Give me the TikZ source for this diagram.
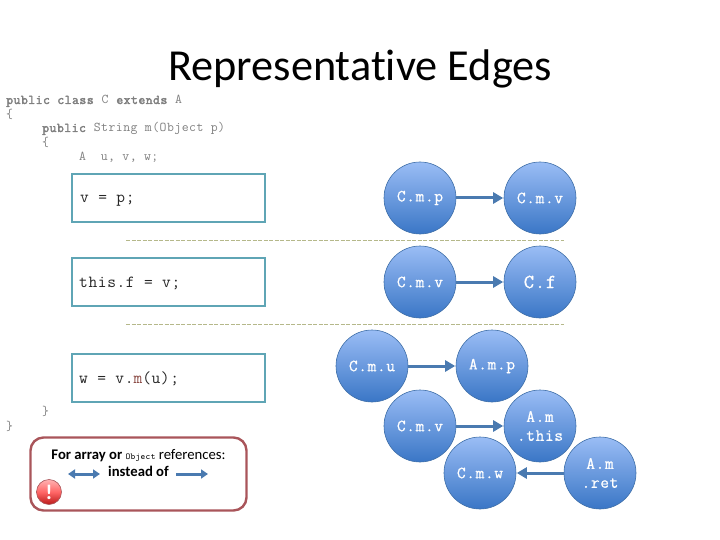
\documentclass[tikz,border=0pt]{standalone}
\usepackage{fontspec}
\setmainfont[Ligatures=NoCommon]{Carlito}
\setmonofont[LetterSpace=3.5,AutoFakeBold=2.5]{Latin Modern Mono}
\newfontfamily\circfont[LetterSpace=3.5,FakeBold=0.7]{Latin Modern Mono}
\usetikzlibrary{arrows.meta,shadings}
\definecolor{tealbox}{HTML}{5FA5B5}
\definecolor{arrowblue}{HTML}{4A7AB0}
\definecolor{circedge}{HTML}{3F6FA8}
\definecolor{circtop}{HTML}{9ABDF5}
\definecolor{circbot}{HTML}{3A76C6}
\definecolor{codegray}{HTML}{7F7F7F}
\definecolor{dashcol}{HTML}{B5B88A}
\definecolor{alertred}{HTML}{A9555A}
\definecolor{methodred}{HTML}{8A4A44}
\tikzset{
  var/.style={circle,draw=circedge,line width=0.6pt,top color=circtop,bottom color=circbot,
    minimum size=72pt,inner sep=0pt,text=white,align=center,font=\fontsize{17}{19}\selectfont\circfont},
  edgearrow/.style={draw=arrowblue,line width=3pt,-{Triangle[length=10pt,width=11pt]},shorten >=0.5pt},
  minarrow/.style={draw=arrowblue,line width=3pt},
  stmt/.style={draw=tealbox,line width=2.8pt,minimum width=193pt,minimum height=48pt,inner sep=0pt},
  stmttext/.style={anchor=base west,inner sep=0pt,font=\fontsize{17}{17}\selectfont\ttfamily,text=black!85},
  code/.style={anchor=base west,inner sep=0pt,font=\fontsize{13.4}{13.4}\selectfont\ttfamily,text=codegray},
  sep/.style={draw=dashcol,line width=0.9pt,dash pattern=on 4pt off 1.5pt},
  note/.style={anchor=base,inner sep=0pt,font=\fontsize{14.7}{14.7}\selectfont}
}
\begin{document}
\begin{tikzpicture}[x=1pt,y=-1pt]
\useasboundingbox (0,0) rectangle (720,540);
\node[anchor=base,inner sep=0pt,font=\fontsize{44.3}{44.3}\selectfont] (title) at (360,81) {Representative Edges};
\node[code] (l1) at (6,104) {\textbf{public class} C \textbf{extends} A};
\node[code] (l2) at (6,119) {\{};
\node[code] (l3) at (42,132) {\textbf{public} String m(Object p)};
\node[code] (l4) at (42,147) {\{};
\node[code] (l5) at (79,161) {A~~u, v, w;};
\node[code] (l6) at (42,415) {\}};
\node[code] (l7) at (6,430) {\}};

\node[stmt] (b1) at (168.5,198) {};
\node[stmt] (b2) at (168.5,282) {};
\node[stmt] (b3) at (168.5,378) {};
\node[stmttext] (t1) at (80,203) {v = p;};
\node[stmttext] (t2) at (79,287) {this.f = v;};
\node[stmttext] (t3) at (79,383) {w = v.{\color{methodred}m}(u);};

\coordinate (s1a) at (126,240); \coordinate (s1b) at (564,240);
\coordinate (s2a) at (126,324); \coordinate (s2b) at (564,324);
\draw[sep] (s1a) -- (s1b);
\draw[sep] (s2a) -- (s2b);

\node[var] (cmp) at (420,198) {C.m.p};
\node[var] (cmv1) at (540,198) {C.m.v};
\node[var] (cmv2) at (420,282) {C.m.v};
\node[var,font=\fontsize{20}{24}\selectfont\circfont] (cf) at (540,282) {C.f};
\node[var] (cmu) at (372,366) {C.m.u};
\node[var] (amp) at (492,366) {A.m.p};
\node[var] (cmv3) at (420,426) {C.m.v};
\node[var] (amthis) at (540,426) {A.m\\.this};
\node[var] (cmw) at (480,473) {C.m.w};
\node[var] (amret) at (600,473) {A.m\\.ret};

\draw[edgearrow] (cmp) -- (cmv1);
\draw[edgearrow] (cmv2) -- (cf);
\draw[edgearrow] (cmu) -- (amp);
\draw[edgearrow] (cmv3) -- (amthis);
\draw[edgearrow] (amret) -- (cmw);

\node[draw=alertred,line width=2.4pt,rounded corners=13pt,minimum width=216pt,minimum height=73pt,inner sep=0pt] (notebox) at (138.5,474) {};
\node[note] (n1) at (138.5,459) {\textbf{For array or} {\fontsize{9}{9}\selectfont\ttfamily Object} references:};
\node[note] (n2) at (138.5,476) {\textbf{instead of}};
\coordinate (a1l) at (68,474); \coordinate (a1r) at (100,474);
\coordinate (a2l) at (176,474); \coordinate (a2r) at (208,474);
\draw[minarrow,{Triangle[length=7pt,width=9pt]}-{Triangle[length=7pt,width=9pt]}] (a1l) -- (a1r);
\draw[minarrow,-{Triangle[length=7pt,width=9pt]}] (a2l) -- (a2r);
\node[circle,draw=alertred,line width=0.6pt,top color=red!30!white,bottom color=red!70!black!90,middle color=red!60!white,minimum size=25pt,inner sep=0pt,text=white,font=\fontsize{21}{21}\selectfont\bfseries] (alert) at (49,492) {!};
\end{tikzpicture}
\end{document}
